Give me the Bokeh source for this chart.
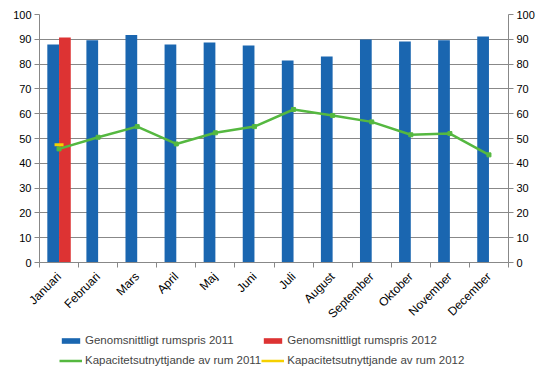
import math
from bokeh.plotting import figure
from bokeh.layouts import column
from bokeh.models import (FixedTicker, LinearAxis, Legend, LegendItem, Range1d,
                          ColumnDataSource)
from bokeh.embed import file_html
from bokeh.resources import INLINE

months = ["Januari", "Februari", "Mars", "April", "Maj", "Juni", "Juli",
          "August", "September", "Oktober", "November", "December"]
price_2011 = [87.9, 89.6, 91.7, 87.9, 88.7, 87.5, 81.5, 83.1, 89.9, 89.1, 89.6, 91.1]
price_2012 = [90.7]
occ_2011 = [45.8, 50.5, 54.8, 47.8, 52.3, 54.8, 61.7, 59.3, 56.7, 51.5, 52.0, 43.4]
occ_2012 = [47.5]
y_ticks = [0, 10, 20, 30, 40, 50, 60, 70, 80, 90, 100]
series_names = ["Genomsnittligt rumspris 2011", "Genomsnittligt rumspris 2012",
                "Kapacitetsutnyttjande av rum 2011", "Kapacitetsutnyttjande av rum 2012"]

BLUE = "#1A66B0"
RED = "#DD3333"
GREEN = "#55B840"
YELLOW = "#F5D000"
GRID = "#888888"
FONT = "Liberation Sans"

n = len(months)
centers = [i + 0.5 for i in range(n)]
bw = 0.3

p = figure(width=546, height=330, output_backend="svg", toolbar_location=None,
           x_range=Range1d(0, n), y_range=Range1d(0, 100),
           min_border_left=39, min_border_right=38, min_border_top=14,
           min_border_bottom=68)
p.outline_line_color = None

src11 = ColumnDataSource(dict(x=[c - bw / 2 for c in centers], top=price_2011))
src12 = ColumnDataSource(dict(x=[c + bw / 2 for c in centers[:len(price_2012)]], top=price_2012))
p.vbar(x="x", top="top", width=bw, source=src11, fill_color=BLUE, line_color=None)
p.vbar(x="x", top="top", width=bw, source=src12, fill_color=RED, line_color=None)

p.line(centers, occ_2011, line_color=GREEN, line_width=2.5)
p.scatter(centers, occ_2011, marker="square", size=4, fill_color=GREEN, line_color=GREEN)
p.line(centers[:len(occ_2012)], occ_2012, line_color=YELLOW, line_width=2.5)
p.scatter(centers[:len(occ_2012)], occ_2012, marker="dash", size=9, line_color=YELLOW, line_width=3)

# grid
p.xgrid.visible = False
p.ygrid.ticker = FixedTicker(ticks=y_ticks)
p.ygrid.grid_line_color = GRID
p.ygrid.grid_line_width = 1

# x axis
xa = p.xaxis[0]
xa.ticker = FixedTicker(ticks=centers, minor_ticks=list(range(n + 1)))
xa.major_label_overrides = {c: m for c, m in zip(centers, months)}
xa.major_label_orientation = math.pi / 4
xa.major_tick_out = 0
xa.major_tick_in = 0
xa.minor_tick_out = 5
xa.minor_tick_in = 0
xa.minor_tick_line_color = GRID
xa.axis_line_color = GRID
xa.major_label_text_font = FONT
xa.major_label_text_font_size = "12px"
xa.major_label_text_color = "#000000"
xa.major_label_standoff = 7

# y axes
ya = p.yaxis[0]
ra = LinearAxis()
p.add_layout(ra, "right")
for ax in (ya, ra):
    ax.ticker = FixedTicker(ticks=y_ticks)
    ax.minor_tick_line_color = None
    ax.major_tick_out = 5
    ax.major_tick_in = 0
    ax.major_tick_line_color = GRID
    ax.axis_line_color = GRID
    ax.major_label_text_font = FONT
    ax.major_label_text_font_size = "11px"
    ax.major_label_text_color = "#000000"
    ax.major_label_standoff = 3

# legend in a separate strip below (sample glyphs lie outside the visible range)
q = figure(width=546, height=46, output_backend="svg", toolbar_location=None,
           x_range=Range1d(0, 1), y_range=Range1d(0, 1),
           x_axis_type=None, y_axis_type=None, min_border=0)
q.outline_line_color = None
q.xgrid.visible = False
q.ygrid.visible = False
lb11 = q.vbar(x=[-5], top=[-4], bottom=[-5], width=0.1, fill_color=BLUE, line_color=None)
lb12 = q.vbar(x=[-5], top=[-4], bottom=[-5], width=0.1, fill_color=RED, line_color=None)
ll11 = q.line(x=[-5, -4], y=[-5, -5], line_color=GREEN, line_width=2.5)
ll12 = q.line(x=[-5, -4], y=[-5, -5], line_color=YELLOW, line_width=2.5)

legend = Legend(items=[
    LegendItem(label=series_names[0], renderers=[lb11]),
    LegendItem(label=series_names[2], renderers=[ll11]),
    LegendItem(label=series_names[1], renderers=[lb12]),
    LegendItem(label=series_names[3], renderers=[ll12]),
], ncols=2)
legend.label_text_font = FONT
legend.label_text_font_size = "11.5px"
legend.glyph_width = 23
legend.glyph_height = 7
legend.label_standoff = 3
legend.label_height = 20
legend.spacing = 0
legend.padding = 0
legend.margin = 0
legend.border_line_color = None
legend.background_fill_alpha = 0
legend.location = (20, 6)
q.add_layout(legend)

layout = column(p, q, spacing=0)
open("out.html", "w").write(file_html(layout, INLINE))
